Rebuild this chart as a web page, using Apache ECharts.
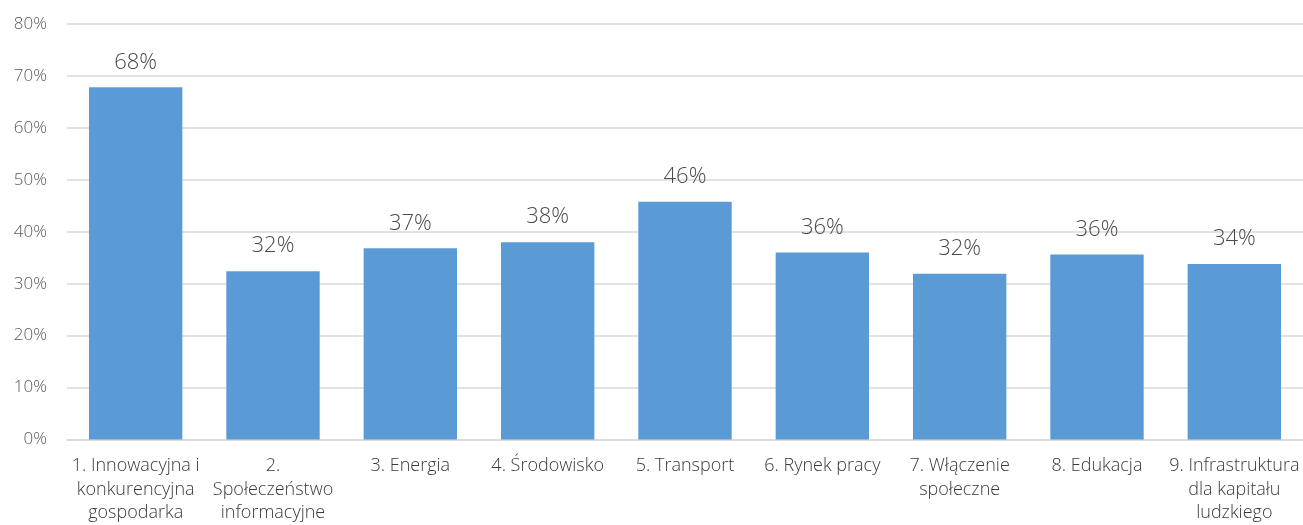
<!DOCTYPE html>
<html>
<head>
<meta charset="utf-8">
<script src="https://cdn.jsdelivr.net/npm/echarts@6/dist/echarts.min.js"></script>
<style>html,body{margin:0;padding:0;background:#fff;}#c{width:1303px;height:525px;}</style>
</head>
<body>
<div id="c"></div>
<script>
const categories = [
  "1. Innowacyjna i\nkonkurencyjna\ngospodarka",
  "2.\nSpołeczeństwo\ninformacyjne",
  "3. Energia",
  "4. Środowisko",
  "5. Transport",
  "6. Rynek pracy",
  "7. Włączenie\nspołeczne",
  "8. Edukacja",
  "9. Infrastruktura\ndla kapitału\nludzkiego"
];
const values = [67.8, 32.4, 36.8, 38.0, 45.8, 36.0, 31.9, 35.6, 33.8];
const yTicks = [0, 10, 20, 30, 40, 50, 60, 70, 80];

const chart = echarts.init(document.getElementById('c'));
chart.setOption({
  animation: false,
  textStyle: { fontFamily: "Open Sans", color: "#595959" },
  grid: { left: 67, right: 0, top: 24, bottom: 84, containLabel: false },
  xAxis: {
    type: 'category',
    data: categories,
    axisLine: { lineStyle: { color: '#d9d9d9', width: 1.5 } },
    axisTick: { show: false },
    axisLabel: { color: '#3a3a3a', fontSize: 18, lineHeight: 23.5, margin: 15, interval: 0, fontFamily: "Open Sans", fontWeight: 300 }
  },
  yAxis: {
    type: 'value',
    min: yTicks[0],
    max: yTicks[yTicks.length - 1],
    interval: 10,
    axisLine: { show: false },
    axisTick: { show: false },
    splitLine: { lineStyle: { color: '#d9d9d9', width: 1.5 } },
    axisLabel: { color: '#595959', fontSize: 17, margin: 20, formatter: v => v + '%', fontFamily: "Open Sans", fontWeight: 300 }
  },
  series: [{
    type: 'bar',
    data: values,
    barWidth: '68%',
    itemStyle: { color: '#5b9bd5' },
    label: {
      show: true,
      position: 'top',
      distance: 14,
      color: '#4a4a4a',
      fontSize: 22,
      fontFamily: "Open Sans",
      fontWeight: 300,
      formatter: p => Math.round(p.value) + '%'
    }
  }]
});
</script>
</body>
</html>
